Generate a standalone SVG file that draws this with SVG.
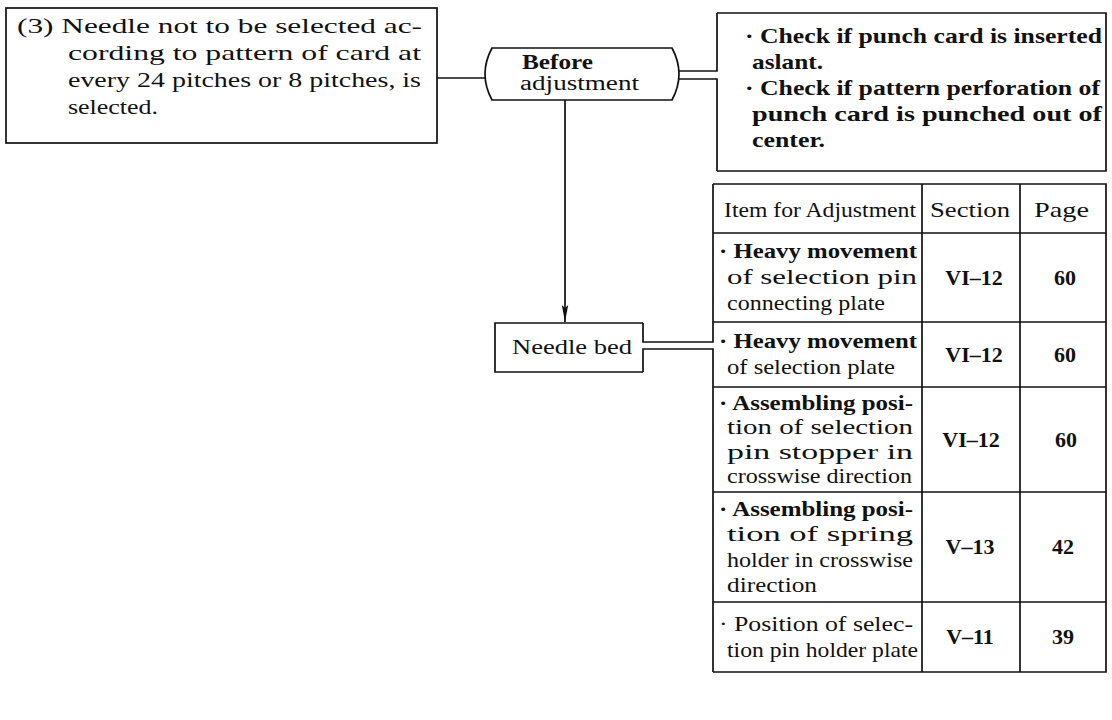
<svg xmlns="http://www.w3.org/2000/svg" width="1112" height="720" viewBox="0 0 1112 720">
<style>
.box{fill:none;stroke:#111;stroke-width:1.7}
.ln{fill:none;stroke:#111;stroke-width:1.7}
.t{font-family:"Liberation Serif","Times New Roman",serif;font-size:22px;fill:#111}
.s{font-size:20px}
.b{font-weight:bold}
.m{text-anchor:middle}
</style>
<defs>
<marker id="ah" markerWidth="18" markerHeight="8" refX="17" refY="4" orient="auto" markerUnits="userSpaceOnUse" viewBox="0 0 18 8">
<path d="M0,0.8 L17,4 L0,7.2 L3,4 Z" fill="#111"/>
</marker>
</defs>
<rect width="1112" height="720" fill="#fff"/>

<g id="connectors">
<line class="ln" x1="437" y1="78" x2="485" y2="78"/>
<path class="ln" d="M678,71 H717 V13"/>
<path class="ln" d="M678,79 H717 V171"/>
<line class="ln" x1="565" y1="100" x2="565" y2="322" marker-end="url(#ah)"/>
<path class="ln" d="M643,323 V342 H713 V184"/>
<path class="ln" d="M643,372 V349 H713 V672"/>
</g>

<g id="problem">
<rect class="box" x="6" y="8" width="431" height="135"/>
<text class="t" x="17" y="33" textLength="405" lengthAdjust="spacingAndGlyphs">(3) Needle not to be selected ac-</text>
<text class="t" x="68" y="60" textLength="353" lengthAdjust="spacingAndGlyphs">cording to pattern of card at</text>
<text class="t" x="68" y="87" textLength="353" lengthAdjust="spacingAndGlyphs">every 24 pitches or 8 pitches, is</text>
<text class="t" x="68" y="114" textLength="90" lengthAdjust="spacingAndGlyphs">selected.</text>
</g>

<g id="before">
<path class="box" d="M492,48 H672 Q686,74 672,100 H492 Q478,74 492,48 Z"/>
<text class="t s b" x="522" y="69" textLength="71" lengthAdjust="spacingAndGlyphs">Before</text>
<text class="t s" x="520" y="90" textLength="119" lengthAdjust="spacingAndGlyphs">adjustment</text>
</g>

<g id="check">
<path class="box" d="M717,13 H1106 V171 H717"/>
<text class="t b" x="745" y="43" textLength="357" lengthAdjust="spacingAndGlyphs">· Check if punch card is inserted</text>
<text class="t b" x="752" y="69" textLength="71" lengthAdjust="spacingAndGlyphs">aslant.</text>
<text class="t b" x="745" y="95" textLength="355" lengthAdjust="spacingAndGlyphs">· Check if pattern perforation of</text>
<text class="t b" x="752" y="121" textLength="350" lengthAdjust="spacingAndGlyphs">punch card is punched out of</text>
<text class="t b" x="752" y="147" textLength="73" lengthAdjust="spacingAndGlyphs">center.</text>
</g>

<g id="needle-bed">
<path class="box" d="M643,323 H495 V372 H643"/>
<text class="t" x="512" y="354" textLength="120" lengthAdjust="spacingAndGlyphs">Needle bed</text>
</g>

<g id="table">
<path class="box" d="M713,184 H1106 V672 H713"/>
<line class="ln" x1="922" y1="184" x2="922" y2="672"/>
<line class="ln" x1="1020" y1="184" x2="1020" y2="672"/>
<line class="ln" x1="713" y1="233" x2="1106" y2="233"/>
<line class="ln" x1="713" y1="322" x2="1106" y2="322"/>
<line class="ln" x1="713" y1="387" x2="1106" y2="387"/>
<line class="ln" x1="713" y1="492" x2="1106" y2="492"/>
<line class="ln" x1="713" y1="602" x2="1106" y2="602"/>

<text class="t" x="724" y="217" textLength="192" lengthAdjust="spacingAndGlyphs">Item for Adjustment</text>
<text class="t" x="930" y="217" textLength="80" lengthAdjust="spacingAndGlyphs">Section</text>
<text class="t" x="1034" y="217" textLength="55" lengthAdjust="spacingAndGlyphs">Page</text>

<text class="t b" x="719" y="258" textLength="198" lengthAdjust="spacingAndGlyphs">· Heavy movement</text>
<text class="t" x="727" y="284" textLength="190" lengthAdjust="spacingAndGlyphs">of selection pin</text>
<text class="t" x="727" y="310" textLength="158" lengthAdjust="spacingAndGlyphs">connecting plate</text>
<text class="t b m" x="974" y="285">VI–12</text>
<text class="t b m" x="1065" y="285">60</text>

<text class="t b" x="719" y="348" textLength="198" lengthAdjust="spacingAndGlyphs">· Heavy movement</text>
<text class="t" x="727" y="374" textLength="168" lengthAdjust="spacingAndGlyphs">of selection plate</text>
<text class="t b m" x="974" y="362">VI–12</text>
<text class="t b m" x="1065" y="362">60</text>

<text class="t b" x="719" y="410" textLength="194" lengthAdjust="spacingAndGlyphs">· Assembling posi-</text>
<text class="t" x="727" y="434" textLength="186" lengthAdjust="spacingAndGlyphs">tion of selection</text>
<text class="t" x="727" y="459" textLength="186" lengthAdjust="spacingAndGlyphs">pin stopper in</text>
<text class="t" x="727" y="483" textLength="185" lengthAdjust="spacingAndGlyphs">crosswise direction</text>
<text class="t b m" x="971" y="447">VI–12</text>
<text class="t b m" x="1066" y="447">60</text>

<text class="t b" x="719" y="516" textLength="194" lengthAdjust="spacingAndGlyphs">· Assembling posi-</text>
<text class="t" x="727" y="541" textLength="186" lengthAdjust="spacingAndGlyphs">tion of spring</text>
<text class="t" x="727" y="567" textLength="186" lengthAdjust="spacingAndGlyphs">holder in crosswise</text>
<text class="t" x="727" y="592" textLength="90" lengthAdjust="spacingAndGlyphs">direction</text>
<text class="t b m" x="970" y="554">V–13</text>
<text class="t b m" x="1063" y="554">42</text>

<text class="t" x="719" y="631" textLength="194" lengthAdjust="spacingAndGlyphs">· Position of selec-</text>
<text class="t" x="727" y="657" textLength="191" lengthAdjust="spacingAndGlyphs">tion pin holder plate</text>
<text class="t b m" x="970" y="644">V–11</text>
<text class="t b m" x="1063" y="644">39</text>
</g>
</svg>
